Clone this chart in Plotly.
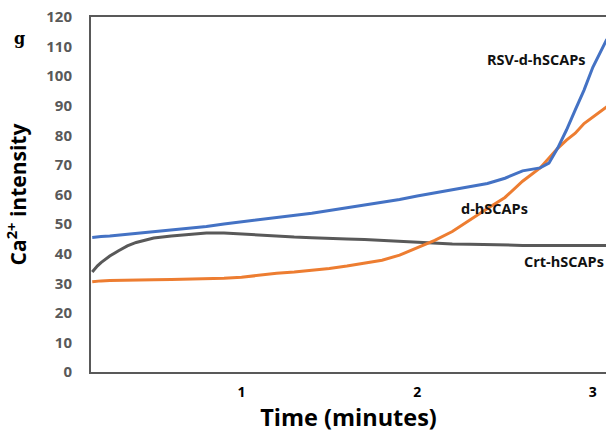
import plotly.graph_objects as go

time_min = [0.15, 0.16, 0.18, 0.2, 0.25, 0.3, 0.35, 0.4, 0.5, 0.6, 0.7, 0.8, 0.9, 1.0,
            1.1, 1.2, 1.3, 1.4, 1.5, 1.6, 1.7, 1.8, 1.9, 2.0, 2.1, 2.2, 2.3, 2.4,
            2.5, 2.6, 2.7, 2.75, 2.8, 2.85, 2.9, 2.95, 3.0, 3.05, 3.08]

rsv_d_hscaps = [45.5, 45.6, 45.7, 45.8, 46.0, 46.3, 46.5, 46.8, 47.3, 48.0, 48.6, 49.2, 50.0, 50.7,
                51.5, 52.3, 53.0, 53.7, 54.6, 55.5, 56.5, 57.3, 58.3, 59.5, 60.5, 61.5, 62.6, 63.7,
                65.5, 68.0, 69.0, 70.6, 75.7, 81.8, 88.6, 95.3, 103.0, 108.9, 112.5]

d_hscaps = [30.5, 30.6, 30.7, 30.8, 30.9, 31.0, 31.0, 31.1, 31.2, 31.3, 31.4, 31.5, 31.7, 32.0,
            32.8, 33.4, 33.8, 34.3, 35.0, 35.8, 36.7, 37.8, 39.5, 42.0, 44.5, 47.5, 51.5, 55.3,
            59.0, 64.5, 69.0, 72.3, 75.6, 78.4, 80.7, 84.0, 86.3, 88.6, 89.7]

crt_hscaps = [33.8, 34.6, 35.9, 37.0, 39.2, 41.0, 42.6, 43.8, 45.3, 46.0, 46.6, 47.0, 47.0, 46.6,
              46.3, 45.8, 45.6, 45.4, 45.3, 45.0, 44.8, 44.5, 44.2, 43.8, 43.5, 43.3, 43.2, 43.0,
              42.9, 42.8, 42.8, 42.8, 42.9, 42.8, 42.8, 42.9, 42.9, 42.8, 42.8]

y_ticks = list(range(0, 121, 10))
y_ticklabels = ["<b>%d</b>" % v for v in y_ticks]
x_ticks = [1, 2, 3]
x_ticklabels = ["<b>1</b>", "<b>2</b>", "<b>3</b>"]

fig = go.Figure()
fig.add_trace(go.Scatter(x=time_min, y=crt_hscaps, mode="lines",
                         line=dict(color="#595959", width=3), name="Crt-hSCAPs"))
fig.add_trace(go.Scatter(x=time_min, y=d_hscaps, mode="lines",
                         line=dict(color="#ED7D31", width=3), name="d-hSCAPs"))
fig.add_trace(go.Scatter(x=time_min, y=rsv_d_hscaps, mode="lines",
                         line=dict(color="#4472C4", width=3), name="RSV-d-hSCAPs"))

lab_font = dict(family="Open Sans", size=14.5, color="#111111")
fig.add_annotation(x=2.68, y=105.5, text="<b>RSV-d-hSCAPs</b>", showarrow=False,
                   xref="x", yref="y", font=lab_font)
fig.add_annotation(x=2.44, y=55.4, text="<b>d-hSCAPs</b>", showarrow=False,
                   xref="x", yref="y", font=lab_font)
fig.add_annotation(x=2.835, y=37.2, text="<b>Crt-hSCAPs</b>", showarrow=False,
                   xref="x", yref="y", font=lab_font)
fig.add_annotation(x=-0.138, y=0.94, xref="paper", yref="paper", text="<b>g</b>",
                   xanchor="center", yanchor="middle",
                   showarrow=False, font=dict(family="DejaVu Serif", size=16, color="black"))

fig.update_layout(
    width=606, height=433,
    margin=dict(l=91, r=0, t=17, b=61),
    paper_bgcolor="white", plot_bgcolor="white",
    showlegend=False,
    xaxis=dict(range=[0.143, 3.075], tickvals=x_ticks, ticktext=x_ticklabels,
               showgrid=False, zeroline=False,
               showline=True, linecolor="#595959", linewidth=2, mirror=True, ticks="",
               ticklabelstandoff=6,
               tickfont=dict(family="Open Sans", size=14, color="black"),
               title=dict(text="<b>Time (minutes)</b>",
                          font=dict(family="Open Sans", size=23.5, color="black"),
                          standoff=8)),
    yaxis=dict(range=[0, 120], tickvals=y_ticks, ticktext=y_ticklabels,
               showgrid=False, zeroline=False,
               showline=True, linecolor="#595959", linewidth=2, ticks="",
               ticklabelstandoff=14,
               tickfont=dict(family="Open Sans", size=15, color="#595959"),
               title=dict(text="<b>Ca<sup>2+</sup> intensity</b>",
                          font=dict(family="Open Sans", size=21, color="black"), standoff=14)),
)

fig.write_html("out.html")
